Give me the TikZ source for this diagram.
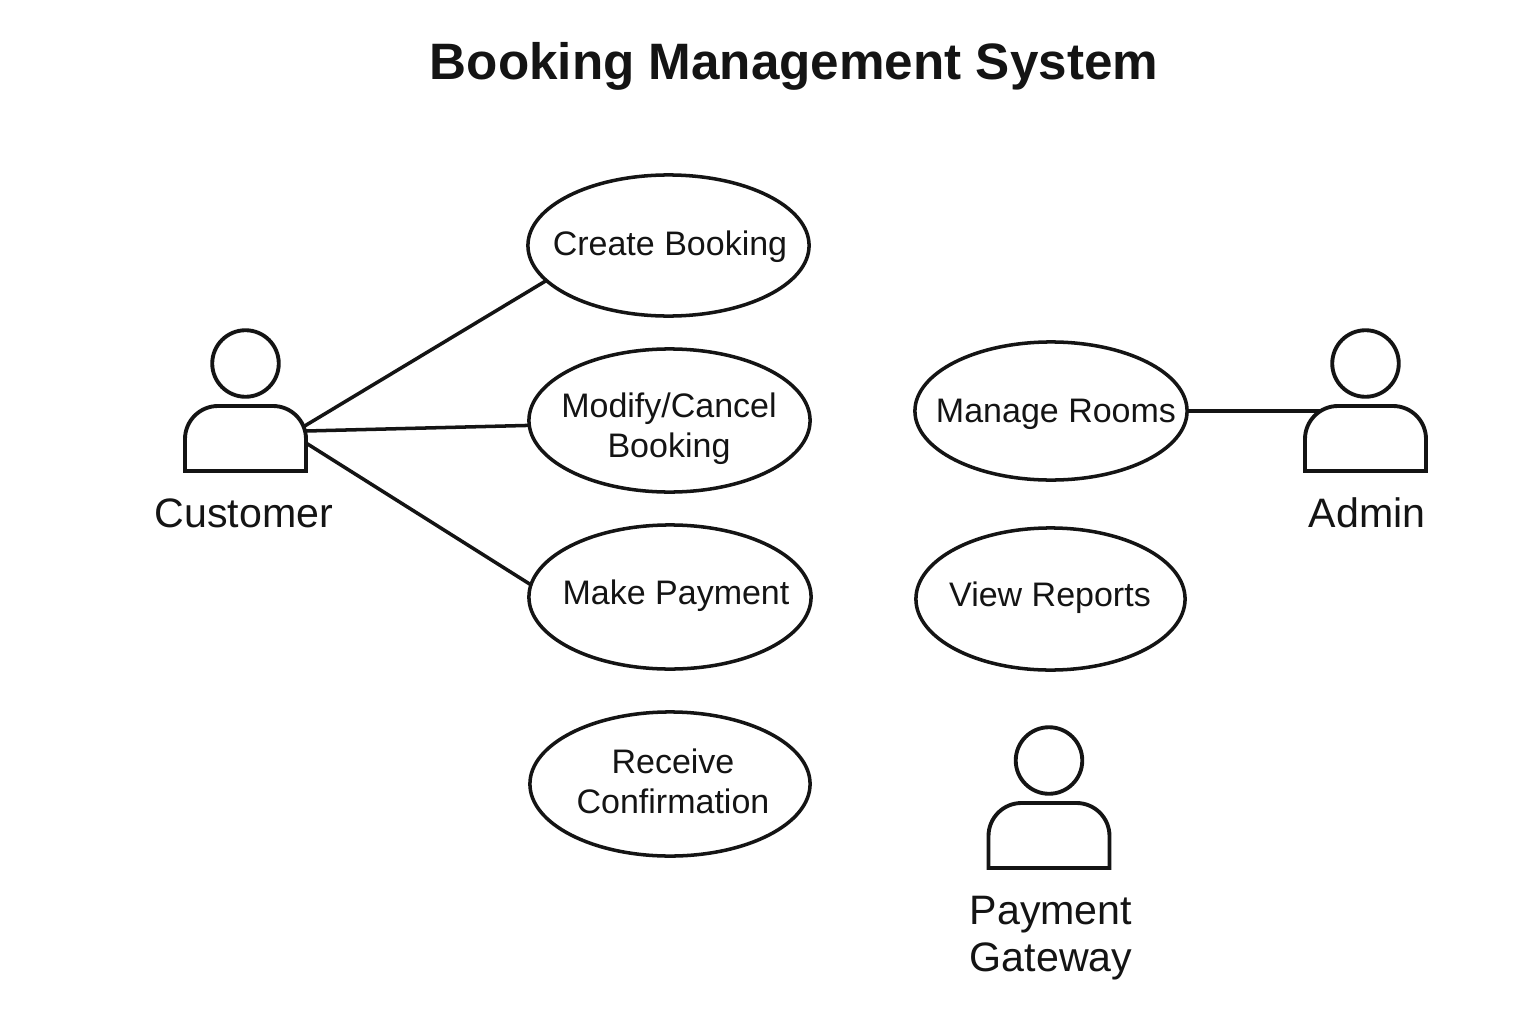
\documentclass[tikz,border=0pt]{standalone}
\usepackage{fontspec}
\setmainfont{Liberation Sans}
\usepackage{tikz}
\usetikzlibrary{shapes.geometric}
\definecolor{InkColour}{RGB}{20,20,20}
\tikzset{
  usecase/.style={draw=InkColour, ellipse, line width=1pt, inner sep=0pt, outer sep=0pt},
  casetext/.style={InkColour, align=center, font=\fontsize{9.67}{11.3}\selectfont},
  actorhead/.style={draw=InkColour, circle, line width=1.1pt, minimum size=0.665cm, inner sep=0pt},
  actorbody/.style={draw=InkColour, line width=1.1pt},
  actortext/.style={InkColour, align=center, font=\fontsize{11.7}{13.5}\selectfont},
  assoc/.style={InkColour, line width=1pt}
}

\begin{document}
\begin{tikzpicture}[x=0.01cm, y=-0.01cm]
  \useasboundingbox[fill=white] (0,0) rectangle (1536,1024);
  \node[InkColour, font=\bfseries\fontsize{14.56}{16}\selectfont] (title) at (794,66) {Booking Management System};

  \foreach \name/\x/\y/\w/\h/\tx/\ty/\lbl in {
      create/668.5/245.5/2.81/1.41/670/247/{Create Booking},
      modify/669.5/420.5/2.81/1.43/669/428.5/{Modify/Cancel\\Booking},
      payment/670/597/2.82/1.44/676/596/{Make Payment},
      confirm/670/784/2.80/1.44/673/781.5/{Receive\\Confirmation},
      rooms/1051/411/2.72/1.38/1056/414/{Manage Rooms},
      reports/1050.5/599/2.69/1.42/1050/598/{View Reports}} {
    \node[usecase, minimum width=\w cm, minimum height=\h cm] (\name) at (\x,\y) {};
    \node[casetext] (\name-text) at (\tx,\ty) {\lbl};
  }

  \foreach \name/\x/\y/\tx/\ty/\lbl in {
      customer/245.5/406/244/513/{Customer},
      admin/1365.5/406/1367/513/{Admin},
      gateway/1049/803/1051/938/{Payment\\Gateway}} {
    \node[actorhead] (\name-head) at (\x,\y-42.5) {};
    \draw[actorbody] (\x-60.5,\y+65) [rounded corners=0.33cm] -- (\x-60.5,\y) -- (\x+60.5,\y) [sharp corners] -- (\x+60.5,\y+65) -- cycle;
    \node[actortext] (\name-text) at (\tx,\ty) {\lbl};
  }

  \coordinate (customer-a) at (303,427);
  \coordinate (customer-b) at (306,431);
  \coordinate (customer-c) at (306,443);
  \coordinate (admin-a) at (1320,411);
  \draw[assoc] (customer-a) -- (create.196);
  \draw[assoc] (customer-b) -- (modify.182);
  \draw[assoc] (customer-c) -- (payment.175);
  \draw[assoc] (rooms.east) -- (admin-a);
\end{tikzpicture}
\end{document}
